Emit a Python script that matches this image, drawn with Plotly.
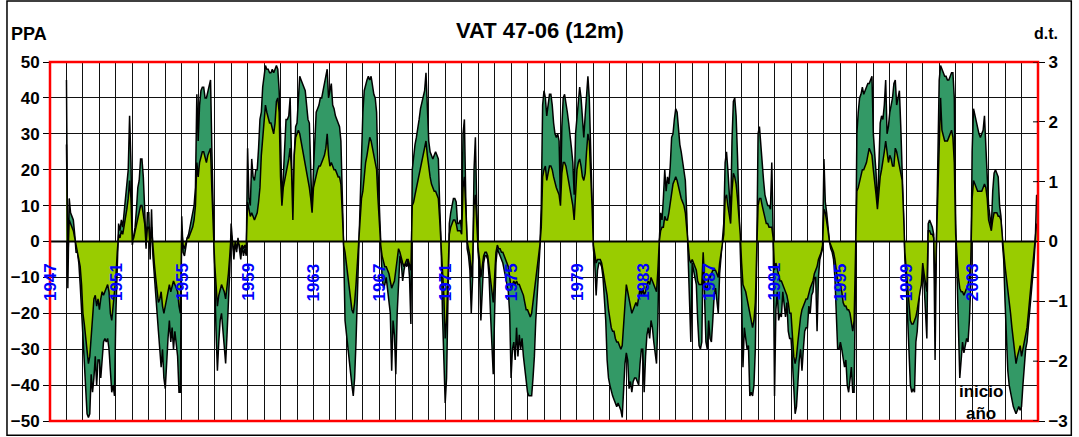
import plotly.graph_objects as go

# ---------------- data ----------------
YEARS = list(range(1947, 2007))
LABEL_YEARS = list(range(1947, 2004, 4))

# PPA (12-month accumulated precipitation anomaly), monthly, left axis
PPA = [
    None, None, None, None, None, None, None, None, None, None, None, None,  # 1947
    45, -13, 12, 8, 7, 6, 2, -3, -3, -6, -12, -20,            # 1948
    -27, -35, -43, -48, -49, -48, -37, -42, -38, -32, -40, -33,  # 1949
    -33, -38, -33, -28, -27, -28, -27, -30, -36, -42, -40, -43,  # 1950
    -20, -5, 5, 3, 6, 4, 8, 12, 15, 20, 35, 22,               # 1951
    -1, 1, 4, 9, 15, 17, 23, 23, 18, 9, -2, 8,                 # 1952
    8, -5, 9, -4, -10, -15, -22, -25, -30, -35, -30, -38,      # 1953
    -41, -32, -27, -22, -28, -24, -30, -25, -29, -32, -42, -42,  # 1954
    7, -3, -4, -1, 1, 2, 4, 5, 7, 10, 15, 41,                  # 1955
    28, 38, 42, 43, 43, 40, 40, 42, 44, 45, 25, 2,             # 1956
    -10, -25, -36, -28, -22, -20, -24, -30, -34, -26, -18, -8,  # 1957
    5, 1, -5, 0, -3, 1, -2, -5, -1, -4, -2, -4,                # 1958
    26, 12, 10, 23, 18, 17, 20, 20, 26, 34, 36, 43,            # 1959
    46, 49, 48, 48, 47, 47, 48, 47, 48, 49, 48, 42,            # 1960
    30, 11, 18, 28, 34, 34, 35, 40, 25, 7, 24, 32,             # 1961
    33, 40, 46, 45, 44, 43, 42, 38, 34, 33, 20, 8,             # 1962
    20, 30, 36, 37, 38, 40, 40, 42, 44, 46, 48, 40,            # 1963
    42, 44, 38, 37, 35, 34, 33, 32, 28, 14, -2, -22,           # 1964
    -26, -28, -32, -36, -40, -43, -38, -28, -15, -3, 12, 26,   # 1965
    36, 42, 44, 45, 46, 45, 46, 43, 41, 40, 36, 20,            # 1966
    8, -3, -10, -13, -12, -10, -14, -18, -20, -36, -22, -26,   # 1967
    -37, -20, -12, -4, -6, -11, -8, -6, -7, -5, -10, -23,      # 1968
    20, 24, 27, 29, 31, 34, 37, 39, 40, 42, 47, 38,            # 1969
    28, 25, 24, 23, 24, 25, 24, 23, 10, 0, -20, -32,           # 1970
    -45, -38, -20, 5, 8, 10, 12, 12, 11, 5, 5, 6,              # 1971
    3, 30, 34, 12, -2, -4, -8, -20, -10, 20, 29, 10,           # 1972
    -3, -8, -22, -14, -6, -4, -4, -5, -10, -20, -30, -37,      # 1973
    -20, -6, -2, -3, -4, -5, -6, -8, -10, -12, -14, -20,       # 1974
    -38, -30, -28, -33, -24, -32, -26, -30, -27, -32, -36, -40,  # 1975
    -42, -43, -43, -43, -38, -32, -22, -15, -8, -2, 10, 38,    # 1976
    42, 40, 35, 38, 41, 41, 38, 33, 30, 29, 30, 28,            # 1977
    10, 32, 40, 41, 39, 36, 33, 30, 26, 22, 13, 30,            # 1978
    35, 39, 43, 40, 33, 29, 35, 42, 46, 40, 28, 14,            # 1979
    -2, -6, -15, -8, -6, -6, -7, -10, -15, -22, -33, -38,      # 1980
    -40, -42, -43, -44, -45, -46, -45, -46, -47, -49, -42, -34,  # 1981
    -31, -33, -41, -39, -42, -39, -38, -38, -39, -40, -34, -30,  # 1982
    -30, -42, -32, -26, -24, -27, -22, -24, -28, -32, -34, -22,  # 1983
    0, 8, 6, 12, 20, 14, 18, 16, 21, 29, 30, 34,               # 1984
    37, 36, 31, 27, 25, 22, 20, 17, 8, -5, -20, -28,           # 1985
    -6, -8, -10, -12, -22, -29, -30, -28, -2, -14, -28, -30,   # 1986
    -22, -27, -28, -22, -15, -13, -16, -20, -9, -4, -1, 5,     # 1987
    22, 25, 20, 12, 7, 28, 39, 40, 35, 24, 12, 3,              # 1988
    -15, -35, -24, -27, -30, -29, -43, -42, -43, -40, -30, -5,  # 1989
    30, 32, 27, 20, 17, 13, 11, 10, 10, 9, 22, 2,              # 1990
    -43, -19, -14, -22, -20, -21, -14, -18, -21, -17, -25, -27,  # 1991
    -27, -33, -40, -48, -46, -38, -33, -30, -36, -30, -25, -24,  # 1992
    -24, -18, -20, -15, -14, -10, -10, -25, -10, -5, -3, -2,   # 1993
    23, 11, 8, 3, 0, -2, -3, -5, -10, -20, -30, -30,           # 1994
    -28, -30, -33, -35, -33, -40, -42, -38, -35, -42, -42, -10,  # 1995
    30, 36, 40, 41, 43, 41, 42, 43, 44, 44, 45, 46,            # 1996
    30, 24, 19, 9, 25, 33, 35, 34, 38, 45, 30, 32,             # 1997
    36, 38, 40, 44, 45, 38, 40, 42, 32, 19, 10, -5,            # 1998
    -12, -22, -32, -40, -42, -41, -42, -28, -25, -18, -12, -9,  # 1999
    -8, -12, -22, -27, 5, 6, 5, 4, 2, -33, 0, 25,              # 2000
    45, 49, 48, 47, 46, 46, 45, 45, 46, 47, 47, 40,            # 2001
    5, -10, -22, -38, -33, -28, -31, -29, -27, -28, -22, -12,  # 2002
    25, 37, 35, 34, 32, 30, 29, 30, 31, 35, 28, 18,            # 2003
    10, 6, 4, 14, 19, 20, 19, 18, 10, 7, 0, -5,                # 2004
    -17, -27, -36, -40, -42, -45, -46, -47, -48, -47, -46, -47,  # 2005
    -46, -40, -35, -30, -28, -24, -18, -14, -10, -6, 0, 13,    # 2006
]

# d.t. (standardised index), monthly, right axis
DT = [
    None, None, None, None, None, None, None, None, None, None, None, None,  # 1947
    1.62, -0.30, 0.36, 0.30, 0.24, 0.18, 0.06, -0.06, -0.12, -0.24, -0.42, -0.72,  # 1948
    -1.20, -1.38, -1.62, -1.92, -2.04, -1.92, -1.62, -1.20, -0.96, -0.90, -1.08, -0.96,  # 1949
    -1.14, -0.96, -0.84, -0.90, -0.84, -0.78, -0.72, -0.84, -1.20, -1.32, -1.08, -0.96,  # 1950
    -0.60, -0.18, 0.12, 0.06, 0.18, 0.12, 0.24, 0.36, 0.54, 0.72, 1.02, 0.72,  # 1951
    0.00, 0.06, 0.18, 0.30, 0.42, 0.54, 0.60, 0.60, 0.48, 0.30, -0.06, 0.24,  # 1952
    0.24, -0.12, 0.24, -0.12, -0.36, -0.60, -0.84, -1.02, -0.96, -0.84, -1.08, -1.20,  # 1953
    -1.08, -0.96, -0.78, -0.72, -0.84, -0.72, -0.66, -0.72, -0.78, -0.84, -1.08, -1.20,  # 1954
    0.18, -0.06, -0.12, 0.00, 0.06, 0.06, 0.12, 0.18, 0.24, 0.36, 0.60, 1.32,  # 1955
    1.08, 1.32, 1.44, 1.50, 1.50, 1.38, 1.32, 1.44, 1.50, 1.56, 0.84, 0.06,  # 1956
    -0.36, -0.72, -1.08, -0.90, -0.78, -0.72, -0.78, -0.84, -0.96, -0.78, -0.54, -0.24,  # 1957
    0.12, 0.00, -0.18, 0.00, -0.12, 0.00, -0.06, -0.18, -0.06, -0.12, -0.06, -0.12,  # 1958
    0.66, 0.54, 0.42, 0.48, 0.42, 0.36, 0.42, 0.48, 0.66, 0.90, 1.44, 1.68,  # 1959
    1.92, 2.28, 2.16, 2.04, 1.98, 1.98, 1.86, 1.80, 1.98, 2.34, 2.40, 2.16,  # 1960
    1.08, 0.60, 0.90, 1.02, 1.14, 1.20, 1.38, 1.56, 1.20, 0.36, 1.44, 1.74,  # 1961
    1.80, 1.86, 1.80, 1.68, 1.56, 1.44, 1.32, 1.20, 1.08, 0.90, 0.72, 0.48,  # 1962
    0.90, 1.02, 1.14, 1.20, 1.26, 1.26, 1.32, 1.38, 1.44, 1.56, 1.80, 1.44,  # 1963
    1.26, 1.32, 1.26, 1.20, 1.20, 1.14, 1.08, 1.08, 0.96, 0.48, -0.06, -0.18,  # 1964
    -0.36, -0.60, -0.78, -0.96, -1.14, -1.20, -1.02, -0.72, -0.36, -0.06, 0.36, 0.72,  # 1965
    0.84, 1.14, 1.32, 1.44, 1.62, 1.74, 1.68, 1.56, 1.44, 1.32, 1.20, 0.72,  # 1966
    0.24, -0.06, -0.24, -0.36, -0.42, -0.42, -0.48, -0.54, -0.66, -0.78, -0.72, -0.66,  # 1967
    -0.48, -0.24, -0.12, -0.18, -0.30, -0.36, -0.42, -0.36, -0.30, -0.30, -0.42, -0.48,  # 1968
    0.60, 0.66, 0.78, 0.90, 1.02, 1.14, 1.26, 1.38, 1.44, 1.56, 1.68, 1.44,  # 1969
    1.20, 1.08, 0.96, 0.90, 0.84, 0.84, 0.78, 0.72, 0.36, 0.00, -0.48, -0.90,  # 1970
    -1.62, -1.32, -0.60, 0.12, 0.24, 0.30, 0.36, 0.36, 0.30, 0.18, 0.18, 0.18,  # 1971
    0.12, 0.90, 1.08, 0.48, 0.00, -0.12, -0.24, -0.60, -0.30, 0.60, 0.78, 0.30,  # 1972
    -0.12, -0.30, -0.60, -0.42, -0.24, -0.18, -0.18, -0.24, -0.42, -0.66, -0.84, -1.02,  # 1973
    -0.60, -0.18, -0.06, -0.12, -0.12, -0.18, -0.18, -0.24, -0.30, -0.36, -0.42, -0.60,  # 1974
    -0.78, -0.72, -0.66, -0.72, -0.66, -0.72, -0.72, -0.78, -0.84, -0.90, -1.02, -1.14,  # 1975
    -1.14, -1.20, -1.26, -1.20, -1.02, -0.84, -0.60, -0.42, -0.24, -0.06, 0.24, 1.08,  # 1976
    1.20, 1.26, 1.02, 1.14, 1.26, 1.26, 1.20, 1.08, 0.96, 0.90, 0.84, 0.78,  # 1977
    0.60, 1.14, 1.32, 1.32, 1.26, 1.14, 1.02, 0.90, 0.78, 0.60, 0.36, 0.78,  # 1978
    1.20, 1.32, 1.38, 1.26, 1.08, 1.02, 1.14, 1.50, 1.80, 1.68, 1.20, 0.60,  # 1979
    -0.06, -0.18, -0.36, -0.30, -0.30, -0.30, -0.36, -0.48, -0.60, -0.72, -0.90, -1.14,  # 1980
    -1.32, -1.44, -1.50, -1.50, -1.62, -1.68, -1.68, -1.74, -1.80, -1.74, -1.38, -1.08,  # 1981
    -0.72, -0.84, -0.96, -1.14, -1.20, -1.14, -1.08, -1.02, -1.08, -0.96, -0.78, -0.90,  # 1982
    -0.78, -0.90, -0.84, -0.72, -0.66, -0.72, -0.60, -0.66, -0.72, -0.78, -0.84, -0.48,  # 1983
    0.00, 0.18, 0.24, 0.24, 0.42, 0.36, 0.36, 0.48, 0.66, 0.84, 0.96, 1.02,  # 1984
    1.08, 1.02, 0.90, 0.78, 0.72, 0.66, 0.60, 0.48, 0.24, -0.12, -0.30, -0.36,  # 1985
    -0.30, -0.36, -0.42, -0.48, -0.66, -0.72, -0.72, -0.72, -0.18, -0.66, -0.78, -0.78,  # 1986
    -0.60, -0.60, -0.54, -0.48, -0.48, -0.48, -0.54, -0.60, -0.36, -0.18, -0.06, 0.12,  # 1987
    0.72, 0.78, 0.60, 0.42, 0.30, 0.84, 1.14, 1.08, 0.96, 0.72, 0.42, 0.12,  # 1988
    -0.36, -0.72, -0.78, -0.84, -0.96, -1.08, -1.26, -1.38, -1.44, -1.32, -1.02, -0.18,  # 1989
    0.60, 0.72, 0.72, 0.60, 0.48, 0.36, 0.30, 0.30, 0.24, 0.24, 0.24, 0.06,  # 1990
    -0.48, -0.36, -0.48, -0.60, -0.66, -0.66, -0.72, -0.78, -0.84, -0.90, -1.02, -1.20,  # 1991
    -1.20, -1.56, -1.92, -2.04, -1.92, -1.68, -1.44, -1.26, -1.14, -1.08, -1.02, -0.96,  # 1992
    -0.96, -0.84, -0.78, -0.72, -0.66, -0.54, -0.48, -0.42, -0.30, -0.24, -0.18, -0.06,  # 1993
    0.54, 0.48, 0.36, 0.18, 0.00, -0.06, -0.12, -0.18, -0.30, -0.54, -0.66, -0.72,  # 1994
    -0.72, -0.84, -1.02, -1.08, -1.08, -1.14, -1.14, -1.20, -1.32, -1.50, -1.32, -0.30,  # 1995
    0.84, 0.90, 1.02, 1.08, 1.20, 1.20, 1.26, 1.32, 1.44, 1.56, 1.50, 1.44,  # 1996
    1.20, 1.02, 0.78, 0.54, 0.84, 1.08, 1.20, 1.32, 1.50, 1.68, 1.44, 1.32,  # 1997
    1.44, 1.38, 1.26, 1.26, 1.56, 1.50, 1.38, 1.26, 1.14, 1.02, 0.48, -0.18,  # 1998
    -0.48, -0.78, -1.08, -1.32, -1.38, -1.38, -1.32, -1.26, -1.14, -0.96, -0.84, -0.72,  # 1999
    -0.36, -0.54, -0.72, -0.84, 0.18, 0.18, 0.12, 0.12, 0.06, -0.90, 0.00, 0.90,  # 2000
    1.80, 2.40, 1.86, 1.74, 1.68, 1.68, 1.68, 1.74, 1.80, 1.86, 1.74, 1.32,  # 2001
    0.12, -0.36, -0.60, -0.78, -0.84, -0.84, -0.90, -0.84, -0.78, -0.72, -0.60, -0.36,  # 2002
    0.72, 1.02, 0.96, 0.90, 0.84, 0.84, 0.84, 0.84, 0.90, 0.96, 0.90, 0.72,  # 2003
    0.36, 0.24, 0.18, 0.36, 0.48, 0.48, 0.48, 0.42, 0.42, 0.36, 0.00, -0.18,  # 2004
    -0.42, -0.60, -0.84, -1.02, -1.20, -1.44, -1.62, -1.80, -2.04, -1.92, -1.80, -1.74,  # 2005
    -1.92, -1.80, -1.68, -1.56, -1.44, -1.20, -0.96, -0.72, -0.48, -0.30, 0.00, 0.30,  # 2006
]

TITLE = "VAT 47-06 (12m)"
LEFT_LABEL = "PPA"
RIGHT_LABEL = "d.t."
NOTE_LINES = ["inicio", "año"]
DT_TICKS = [-3, -2, -1, 0, 1, 2, 3]

# ---------------- figure ----------------
x = [yr + m / 12.0 for yr in YEARS for m in range(12)]

DARK = "#339966"
LIGHT = "#99CC00"
FONT = "Liberation Sans, Arial, sans-serif"

fig = go.Figure()
fig.add_trace(go.Scatter(
    x=x, y=PPA, mode="lines", fill="tozeroy", fillcolor=DARK,
    line=dict(color="black", width=1.5), yaxis="y", showlegend=False,
    hoverinfo="skip"))
fig.add_trace(go.Scatter(
    x=x, y=DT, mode="lines", fill="tozeroy", fillcolor=LIGHT,
    line=dict(color="black", width=1.5), yaxis="y2", showlegend=False,
    hoverinfo="skip"))

W, H = 1079, 437
# target plot area in pixels
PX_L, PX_R, PX_T, PX_B = 50, 1037.7, 62, 420.7
L, R, T, B = PX_L, W - PX_R, PX_T, H - PX_B
pw, ph = PX_R - PX_L, PX_B - PX_T


def px_x(px):
    return (px - PX_L) / pw


def px_y(py):
    return (PX_B - py) / ph


tickfont = dict(family=FONT, size=17, color="black", weight="bold")

fig.update_layout(
    width=W, height=H, autosize=False,
    margin=dict(l=L, r=R, t=T, b=B, pad=0, autoexpand=False),
    paper_bgcolor="white", plot_bgcolor="white",
    showlegend=False,
    xaxis=dict(range=[1947, 2007], tick0=1947, dtick=1, showgrid=True,
               gridcolor="#111111", gridwidth=1, showticklabels=False,
               ticks="", zeroline=False, showline=False, fixedrange=True,
               automargin=False),
    yaxis=dict(range=[-50, 50], dtick=10, showgrid=True, gridcolor="#111111",
               gridwidth=1, ticks="outside", ticklen=6, tickcolor="black",
               tickfont=tickfont, zeroline=False, showline=False,
               fixedrange=True, automargin=False),
    yaxis2=dict(range=[-3, 3], tickvals=DT_TICKS, overlaying="y", side="right",
                showgrid=False, ticks="outside", ticklen=6, tickcolor="black",
                tickfont=tickfont, zeroline=False, showline=False,
                fixedrange=True, automargin=False),
)

shapes = [
    # zero line
    dict(type="line", xref="paper", yref="y", x0=0, x1=1, y0=0, y1=0,
         line=dict(color="black", width=2), layer="above"),
    # red plot frame
    dict(type="rect", xref="paper", yref="paper", x0=0, x1=1, y0=0, y1=1,
         line=dict(color="#FF0000", width=2.5), layer="above"),
    # outer black frame
    dict(type="rect", xref="paper", yref="paper",
         x0=px_x(7), x1=px_x(1071), y0=px_y(435), y1=px_y(1),
         line=dict(color="black", width=1.5), layer="above"),
]
# right-axis tick marks crossing into the plot (inner half)
for v in DT_TICKS:
    shapes.append(dict(type="line", xref="paper", yref="y2",
                       x0=1 - 5 / pw, x1=1, y0=v, y1=v,
                       line=dict(color="black", width=1), layer="above"))
fig.update_layout(shapes=shapes)

ann = []
ann.append(dict(text=TITLE, xref="paper", yref="paper", x=px_x(540), y=px_y(31),
                showarrow=False, xanchor="center", yanchor="middle",
                font=dict(family=FONT, size=22, color="black", weight="bold")))
ann.append(dict(text=LEFT_LABEL, xref="paper", yref="paper", x=px_x(29), y=px_y(34),
                showarrow=False, xanchor="center", yanchor="middle",
                font=dict(family=FONT, size=18, color="black", weight="bold")))
ann.append(dict(text=RIGHT_LABEL, xref="paper", yref="paper", x=px_x(1046), y=px_y(34),
                showarrow=False, xanchor="center", yanchor="middle",
                font=dict(family=FONT, size=16, color="black", weight="bold")))
for i, line in enumerate(NOTE_LINES):
    ann.append(dict(text=line, xref="paper", yref="paper",
                    x=px_x(981), y=px_y(391 + 22 * i),
                    showarrow=False, xanchor="center", yanchor="middle",
                    font=dict(family=FONT, size=17, color="black", weight="bold")))
for yr in LABEL_YEARS:
    ann.append(dict(text=str(yr), xref="x", yref="y", x=yr, y=-11.3,
                    textangle=-90, showarrow=False, xanchor="center",
                    yanchor="middle",
                    font=dict(family=FONT, size=17, color="#0000FF", weight="bold")))
fig.update_layout(annotations=ann)

fig.write_html("out.html", include_plotlyjs=True, full_html=True,
               config=dict(displayModeBar=False, staticPlot=True))
